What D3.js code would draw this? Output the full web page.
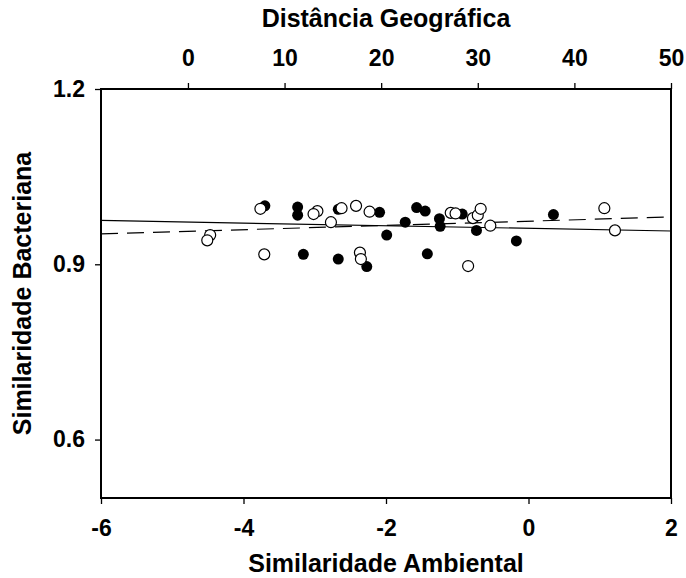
<!DOCTYPE html>
<html>
<head>
<meta charset="utf-8">
<script src="https://cdn.jsdelivr.net/npm/d3@7"></script>
<style>
  body { margin: 0; background: #fff; }
  svg { display: block; }
  text { font-family: "Liberation Sans", Arial, Helvetica, sans-serif; font-weight: bold; fill: #000; }
</style>
</head>
<body>
<script>
// filled circles: environmental similarity (bottom axis)
var ambX = [-3.70, -3.24, -3.24, -3.16, -2.67, -2.67, -2.27, -2.09, -1.99, -1.73,
            -1.57, -1.45, -1.42, -1.25, -1.24, -0.93, -0.73, -0.17, 0.35];
var ambY = [1.000, 0.998, 0.984, 0.917, 0.994, 0.909, 0.896, 0.989, 0.950, 0.972,
            0.997, 0.991, 0.918, 0.978, 0.965, 0.986, 0.958, 0.940, 0.985];

// open circles: geographic distance (top axis)
var geoX = [2.3, 2.0, 7.5, 7.9, 13.4, 13.0, 14.8, 15.9, 17.4, 17.8, 17.9,
            18.8, 27.2, 27.7, 29.0, 29.5, 30.0, 30.3, 31.3, 43.1, 44.2];
var geoY = [0.950, 0.941, 0.995, 0.917, 0.991, 0.986, 0.972, 0.996, 1.000, 0.920, 0.909,
            0.990, 0.988, 0.987, 0.897, 0.979, 0.984, 0.995, 0.966, 0.996, 0.958];

// fitted lines (end points)
var ambFitX = [-6, 2], ambFitY = [0.975, 0.957];
var geoFitX = [-9, 50], geoFitY = [0.952, 0.981];

var ambTicks = [-6, -4, -2, 0, 2];
var geoTicks = [0, 10, 20, 30, 40, 50];
var yTicks = [0.6, 0.9, 1.2];

var width = 686, height = 578,
    plot = { left: 101, right: 671, top: 89, bottom: 498 };

var svg = d3.select('body').append('svg')
    .attr('width', width)
    .attr('height', height);

var xAmb = d3.scaleLinear().domain([-6, 2]).range([plot.left, plot.right]);
var xGeo = d3.scaleLinear().domain([-9, 50]).range([plot.left, plot.right]);
var y = d3.scaleLinear().domain([0.5, 1.2]).range([plot.bottom, plot.top]);

svg.append('clipPath').attr('id', 'clip')
  .append('rect')
    .attr('x', plot.left).attr('y', plot.top)
    .attr('width', plot.right - plot.left)
    .attr('height', plot.bottom - plot.top);

// frame
svg.append('rect')
    .attr('x', plot.left).attr('y', plot.top)
    .attr('width', plot.right - plot.left)
    .attr('height', plot.bottom - plot.top)
    .attr('fill', 'none')
    .attr('stroke', '#000')
    .attr('stroke-width', 2);

var intFmt = d => String(d);  // plain hyphen for negatives

function styleAxis(g) {
  g.select('.domain').remove();
  g.selectAll('.tick line').attr('stroke', '#000').attr('stroke-width', 1.3);
  g.selectAll('.tick text').attr('font-size', 23).attr('font-family', null);
}

svg.append('g')
    .attr('transform', `translate(0, ${plot.bottom})`)
    .call(d3.axisBottom(xAmb).tickValues(ambTicks).tickSize(6).tickPadding(16).tickFormat(intFmt))
    .call(styleAxis);

svg.append('g')
    .attr('transform', `translate(0, ${plot.top})`)
    .call(d3.axisTop(xGeo).tickValues(geoTicks).tickSize(6).tickPadding(17).tickFormat(intFmt))
    .call(styleAxis);

svg.append('g')
    .attr('transform', `translate(${plot.left}, 0)`)
    .call(d3.axisLeft(y).tickValues(yTicks).tickSize(6).tickPadding(10).tickFormat(d3.format('.1f')))
    .call(styleAxis);

// axis titles
svg.append('text')
    .attr('x', 386).attr('y', 27)
    .attr('text-anchor', 'middle')
    .attr('font-size', 25)
    .text('Distância Geográfica');

svg.append('text')
    .attr('x', 386).attr('y', 572)
    .attr('text-anchor', 'middle')
    .attr('font-size', 25)
    .text('Similaridade Ambiental');

svg.append('text')
    .attr('transform', `translate(31, ${(plot.top + plot.bottom) / 2}) rotate(-90)`)
    .attr('text-anchor', 'middle')
    .attr('font-size', 25)
    .text('Similaridade Bacteriana');

// regression lines
var marks = svg.append('g').attr('clip-path', 'url(#clip)');

marks.append('path')
    .attr('d', d3.line()(ambFitX.map((d, i) => [xAmb(d), y(ambFitY[i])])))
    .attr('fill', 'none')
    .attr('stroke', '#000')
    .attr('stroke-width', 1.2);

marks.append('path')
    .attr('d', d3.line()(geoFitX.map((d, i) => [xGeo(d), y(geoFitY[i])])))
    .attr('fill', 'none')
    .attr('stroke', '#000')
    .attr('stroke-width', 1.2)
    .attr('stroke-dasharray', '17,9');

// points
marks.selectAll('circle.amb')
    .data(ambX)
  .enter().append('circle')
    .attr('class', 'amb')
    .attr('cx', d => xAmb(d))
    .attr('cy', (d, i) => y(ambY[i]))
    .attr('r', 5.5)
    .attr('fill', '#000');

marks.selectAll('circle.geo')
    .data(geoX)
  .enter().append('circle')
    .attr('class', 'geo')
    .attr('cx', d => xGeo(d))
    .attr('cy', (d, i) => y(geoY[i]))
    .attr('r', 5.5)
    .attr('fill', '#fff')
    .attr('stroke', '#000')
    .attr('stroke-width', 1.2);
</script>
</body>
</html>
